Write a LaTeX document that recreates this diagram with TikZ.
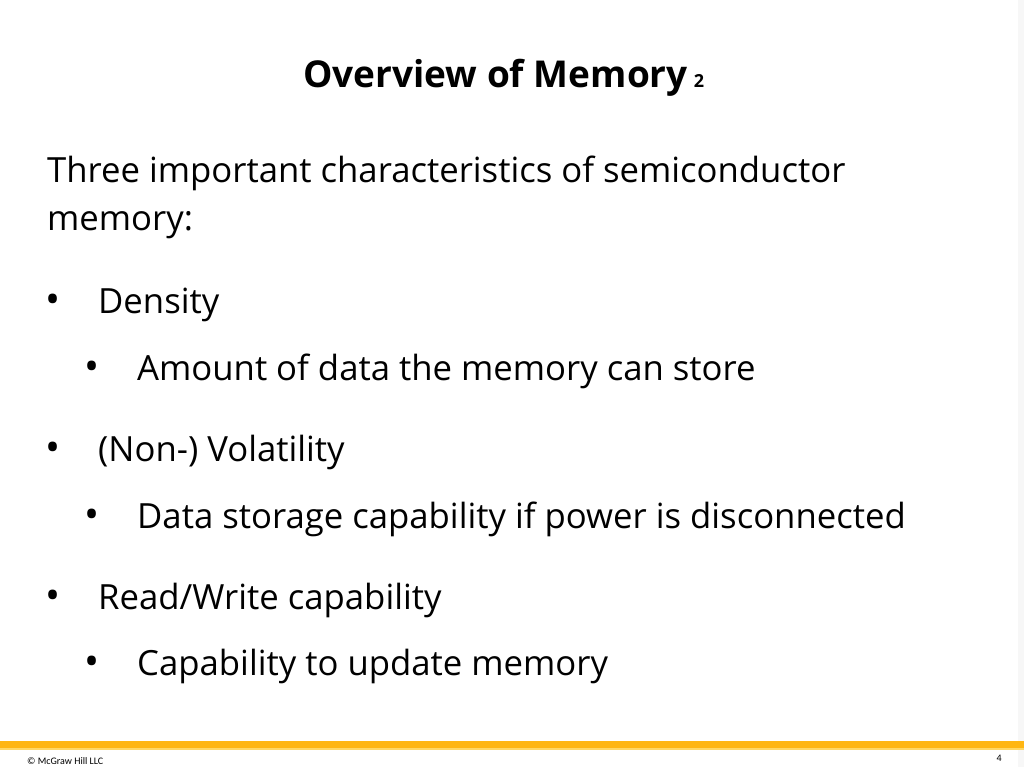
\documentclass[tikz,border=0pt]{standalone}
\usepackage{fontspec}
\setmainfont{Open Sans}
\newfontfamily\footfont{Carlito}
\definecolor{barc}{HTML}{FFB612}
\definecolor{barl}{HTML}{FFD766}
\begin{document}
\begin{tikzpicture}[x=1pt,y=-1pt,
  body/.style={anchor=base west,inner sep=0pt,font=\fontsize{34.7}{40}\selectfont},
  dot/.style={anchor=base west,inner sep=0pt,font=\fontsize{40}{40}\selectfont},
  foot/.style={anchor=base west,inner sep=0pt,font=\footfont\fontsize{10}{12}\selectfont}]
\useasboundingbox (0,0) rectangle (1024,767);
\fill[white] (0,0) rectangle (1024,767);
\fill[white!97!black] (1018,0) rectangle (1024,767);
\node[anchor=base west,inner sep=0pt,font=\fontsize{37}{42}\selectfont\bfseries] (title) at (303,88) {Overview of Memory\,\fontsize{18}{20}\selectfont 2};
\node[body] (t1) at (47,183) {Three important characteristics of semiconductor};
\node[body] (t2) at (47,230) {memory:};
\node[dot] (b1d) at (45,313) {•};
\node[body] (b1) at (98,313) {Density};
\node[dot] (s1d) at (84,380) {•};
\node[body] (s1) at (137,380) {Amount of data the memory can store};
\node[dot] (b2d) at (45,461) {•};
\node[body] (b2) at (98,461) {(Non-) Volatility};
\node[dot] (s2d) at (84,528) {•};
\node[body] (s2) at (137,528) {Data storage capability if power is disconnected};
\node[dot] (b3d) at (45,609) {•};
\node[body] (b3) at (98,609) {Read/Write capability};
\node[dot] (s3d) at (84,675) {•};
\node[body] (s3) at (137,675) {Capability to update memory};
\fill[barc] (0,741) rectangle (1024,748);
\fill[barl] (0,748) rectangle (1024,749.5);
\node[foot] (copy) at (27,764) {© McGraw Hill LLC};
\node[foot,anchor=base east] (pg) at (1002,761) {4};
\end{tikzpicture}
\end{document}
